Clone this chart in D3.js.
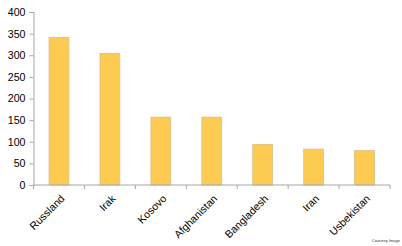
<!DOCTYPE html>
<html>
<head>
<meta charset="utf-8">
<script src="https://cdn.jsdelivr.net/npm/d3@7"></script>
<style>
body { margin: 0; background: #fff; }
svg text { font-family: "Liberation Sans", Arial, sans-serif; }
</style>
</head>
<body>
<div id="container"></div>
<script>
const width = 402;
const height = 246;
const countries = ["Russland", "Irak", "Kosovo", "Afghanistan", "Bangladesh", "Iran", "Usbekistan"];
const counts = [341, 304, 157, 157, 94, 83, 80];
const yTicks = [0, 50, 100, 150, 200, 250, 300, 350, 400];

const margin = { left: 33.5, right: 12, top: 12, bottom: 61 };
const svg = d3.select("#container")
    .append("svg")
    .attr("width", width)
    .attr("height", height);

const x = d3.scaleBand()
    .domain(countries)
    .range([margin.left, width - margin.right])
    .paddingInner(0.61)
    .paddingOuter(0.305);
const y = d3.scaleLinear()
    .domain([0, 400])
    .range([height - margin.bottom, margin.top]);

// y axis
const yAxis = svg.append("g")
    .attr("transform", `translate(${margin.left},0)`)
    .call(d3.axisLeft(y).tickValues(yTicks).tickSize(4).tickPadding(4));
yAxis.selectAll("path, line").attr("stroke", "#a6a6a6");
yAxis.selectAll("text").attr("font-size", 10.6).attr("fill", "#000");

// bars
svg.append("g")
    .selectAll("rect")
    .data(counts)
    .enter()
    .append("rect")
    .attr("x", (d, i) => x(countries[i]))
    .attr("y", (d) => y(d))
    .attr("width", x.bandwidth())
    .attr("height", (d) => y(0) - y(d))
    .attr("fill", "#fecb52")
    .attr("stroke", "#d9c08a")
    .attr("stroke-width", 0.8);

// x axis with ticks at category boundaries
const step = x.step();
const xg = svg.append("g")
    .attr("transform", `translate(0,${y(0)})`);
xg.append("line")
    .attr("x1", margin.left)
    .attr("x2", width - margin.right)
    .attr("stroke", "#a6a6a6");
xg.selectAll("line.tick")
    .data(d3.range(countries.length + 1))
    .enter()
    .append("line")
    .attr("class", "tick")
    .attr("x1", (i) => margin.left + i * step)
    .attr("x2", (i) => margin.left + i * step)
    .attr("y1", 0)
    .attr("y2", 4)
    .attr("stroke", "#a6a6a6");
xg.selectAll("text")
    .data(countries)
    .enter()
    .append("text")
    .attr("transform", (d) => `translate(${x(d) + x.bandwidth() / 2 + 1},${9}) rotate(-45)`)
    .attr("text-anchor", "end")
    .attr("dy", "0.7em")
    .attr("font-size", 10.6)
    .attr("fill", "#000")
    .text((d) => d);

svg.append("text")
    .attr("x", width - 2)
    .attr("y", height - 4)
    .attr("text-anchor", "end")
    .attr("font-size", 4)
    .attr("fill", "#333")
    .text("Courtesy Image");
</script>
</body>
</html>
